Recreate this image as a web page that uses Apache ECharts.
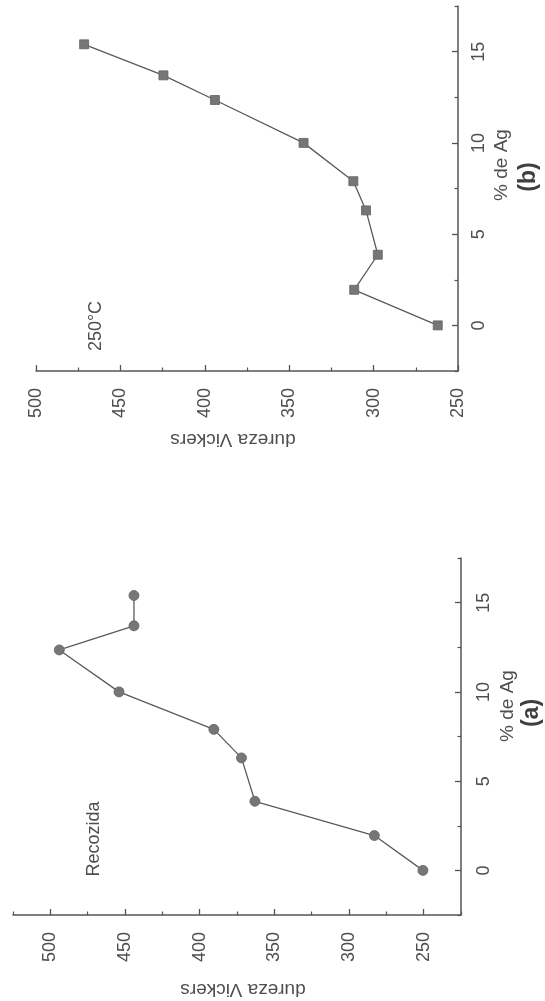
<!DOCTYPE html>
<html><head><meta charset="utf-8">
<script src="https://cdn.jsdelivr.net/npm/echarts@6/dist/echarts.min.js"></script>
<style>html,body{margin:0;padding:0;background:#fff}#c{width:545px;height:1001px}</style>
</head><body><div id="c"></div>
<script>
// % Ag (shared by both panels)
const agPct = [0, 1.95, 3.87, 6.3, 7.9, 10.0, 12.35, 13.7, 15.4];
// (a) Recozida – dureza Vickers
const durezaRecozida = [250.5, 283, 363, 372, 390.5, 454, 494, 444, 444];
// (b) 250°C – dureza Vickers
const dureza250C = [262, 311.5, 297.5, 304.5, 312, 341.5, 394, 424.5, 471.5];
// tick values
const durezaTicks = [250, 300, 350, 400, 450, 500];
const durezaMinorA = [225, 275, 325, 375, 425, 475, 525];
const agTicks = [0, 5, 10, 15];
const agMinor = [-2.5, 2.5, 7.5, 12.5, 17.5];

const FONT = "'Liberation Sans', Arial, sans-serif";
const AX = '#555';
const TXT = '#4f4f4f';

const pairs = (xs) => xs.map((d, i) => [d, agPct[i]]);

const lineAx = { show: true, onZero: false, lineStyle: { color: AX, width: 1.5 } };
const lblStyle = { rotate: 90, color: TXT, fontSize: 18, fontFamily: FONT };

const chart = echarts.init(document.getElementById('c'), null, { renderer: 'canvas' });
chart.setOption({
  backgroundColor: '#fff',
  animation: false,
  grid: [
    { left: 36, top: 6, width: 422, height: 365, outerBoundsMode: 'none' },
    { left: 13, top: 558, width: 448, height: 357, outerBoundsMode: 'none' }
  ],
  xAxis: [
    { // (b) dureza
      type: 'value', gridIndex: 0, min: 250, max: 500, interval: 50, inverse: true, position: 'bottom',
      axisLine: lineAx, splitLine: { show: false },
      axisTick: { show: true, inside: true, length: 6, lineStyle: { color: AX, width: 1.3 } },
      minorTick: { show: true, splitNumber: 2, length: 3.5, lineStyle: { color: AX, width: 1.2 } },
      axisLabel: Object.assign({ margin: 17 }, lblStyle)
    },
    { // (a) dureza
      type: 'value', gridIndex: 1, min: 225, max: 525, inverse: true, position: 'bottom',
      axisLine: lineAx, splitLine: { show: false },
      axisTick: { show: true, inside: true, length: 6, customValues: durezaTicks, lineStyle: { color: AX, width: 1.3 } },
      axisLabel: Object.assign({ margin: 17, customValues: durezaTicks }, lblStyle)
    },
    { // (a) dureza minor ticks
      type: 'value', gridIndex: 1, min: 225, max: 525, inverse: true, position: 'bottom',
      axisLine: { show: false, onZero: false }, splitLine: { show: false },
      axisTick: { show: true, inside: true, length: 3.5, customValues: durezaMinorA, lineStyle: { color: AX, width: 1.2 } },
      axisLabel: { show: false }
    }
  ],
  yAxis: [
    { // (b) Ag
      type: 'value', gridIndex: 0, min: -2.5, max: 17.5, position: 'right',
      axisLine: lineAx, splitLine: { show: false },
      axisTick: { show: true, inside: true, length: 6, customValues: agTicks, lineStyle: { color: AX, width: 1.3 } },
      axisLabel: Object.assign({ margin: 12, customValues: agTicks }, lblStyle)
    },
    { // (b) Ag minor
      type: 'value', gridIndex: 0, min: -2.5, max: 17.5, position: 'right',
      axisLine: { show: false, onZero: false }, splitLine: { show: false },
      axisTick: { show: true, inside: true, length: 3.5, customValues: agMinor, lineStyle: { color: AX, width: 1.2 } },
      axisLabel: { show: false }
    },
    { // (a) Ag
      type: 'value', gridIndex: 1, min: -2.5, max: 17.5, position: 'right',
      axisLine: lineAx, splitLine: { show: false },
      axisTick: { show: true, inside: true, length: 6, customValues: agTicks, lineStyle: { color: AX, width: 1.3 } },
      axisLabel: Object.assign({ margin: 14, customValues: agTicks }, lblStyle)
    },
    { // (a) Ag minor
      type: 'value', gridIndex: 1, min: -2.5, max: 17.5, position: 'right',
      axisLine: { show: false, onZero: false }, splitLine: { show: false },
      axisTick: { show: true, inside: true, length: 3.5, customValues: agMinor, lineStyle: { color: AX, width: 1.2 } },
      axisLabel: { show: false }
    }
  ],
  series: [
    {
      name: '250°C', type: 'line', xAxisIndex: 0, yAxisIndex: 0,
      data: pairs(dureza250C),
      symbol: 'rect', symbolSize: 9,
      lineStyle: { color: '#5a5a5a', width: 1.3 },
      itemStyle: { color: '#737776', borderColor: '#606462', borderWidth: 0.8 }
    },
    {
      name: 'Recozida', type: 'line', xAxisIndex: 1, yAxisIndex: 2,
      data: pairs(durezaRecozida),
      symbol: 'circle', symbolSize: 10,
      lineStyle: { color: '#5a5a5a', width: 1.3 },
      itemStyle: { color: '#737776', borderColor: '#606462', borderWidth: 0.8 }
    }
  ],
  graphic: [
    { type: 'text', x: 96, y: 326, rotation: Math.PI / 2,
      style: { text: '250°C', fill: TXT, font: '18px ' + FONT, align: 'center', verticalAlign: 'middle' } },
    { type: 'text', x: 94, y: 839, rotation: Math.PI / 2,
      style: { text: 'Recozida', fill: TXT, font: '18px ' + FONT, align: 'center', verticalAlign: 'middle' } },
    { type: 'text', x: 502, y: 165, rotation: Math.PI / 2,
      style: { text: '% de Ag', fill: TXT, font: '19px ' + FONT, align: 'center', verticalAlign: 'middle' } },
    { type: 'text', x: 529, y: 177, rotation: Math.PI / 2,
      style: { text: '(b)', fill: '#3f3f3f', font: 'bold 23px ' + FONT, align: 'center', verticalAlign: 'middle' } },
    { type: 'text', x: 508, y: 706, rotation: Math.PI / 2,
      style: { text: '% de Ag', fill: TXT, font: '19px ' + FONT, align: 'center', verticalAlign: 'middle' } },
    { type: 'text', x: 532, y: 713, rotation: Math.PI / 2,
      style: { text: '(a)', fill: '#3f3f3f', font: 'bold 23px ' + FONT, align: 'center', verticalAlign: 'middle' } },
    { type: 'text', x: 233, y: 439, rotation: Math.PI,
      style: { text: 'dureza Vickers', fill: TXT, font: '19px ' + FONT, align: 'center', verticalAlign: 'middle' } },
    { type: 'text', x: 243, y: 989, rotation: Math.PI,
      style: { text: 'dureza Vickers', fill: TXT, font: '19px ' + FONT, align: 'center', verticalAlign: 'middle' } }
  ]
});
</script>
</body></html>
